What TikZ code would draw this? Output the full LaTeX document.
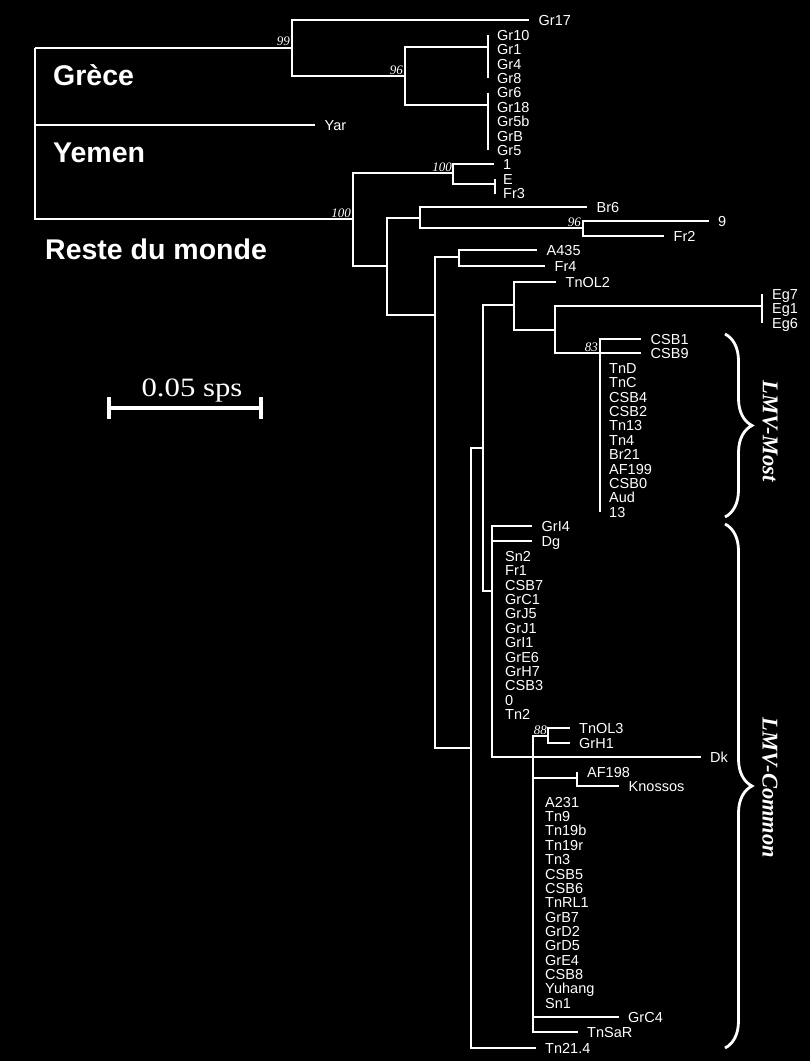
\documentclass[tikz,border=0pt]{standalone}
\usepackage{fontspec}
\setmainfont{Liberation Serif}
\setsansfont{Liberation Sans}
\newfontfamily\widserif[FakeStretch=1.16]{Liberation Serif}
\usetikzlibrary{calc,decorations.pathreplacing}
\newcommand\leaffont{\sffamily\fontsize{14.5}{14.5}\selectfont}
\newcommand\bootfont{\rmfamily\itshape\fontsize{13}{13}\selectfont}
\newcommand\regionfont{\sffamily\bfseries\fontsize{28.5}{28.5}\selectfont}
\newcommand\cladefont{\rmfamily\bfseries\itshape\fontsize{22.5}{22.5}\selectfont}
\newcommand\scalefont{\widserif\fontsize{26.5}{26.5}\selectfont}
\tikzset{
  br/.style={draw=white, line width=2pt},
  tipgap/.style={shorten >=9.5pt},
  leaf/.style={anchor=west, inner sep=0pt, text=white, font=\leaffont, text height=10.4pt, text depth=0pt},
  boot/.style={anchor=base east, inner sep=0pt, text=white, font=\bootfont},
  region/.style={anchor=base west, inner sep=0pt, text=white, font=\regionfont},
  clade/.style={rotate=-90, inner sep=0pt, text=white, font=\cladefont},
  bracestyle/.style={draw=white, line width=2.8pt, decorate, decoration={brace, amplitude=27pt}},
  scalebar/.style={draw=white, line width=3.5pt},
}
\begin{document}
\begin{tikzpicture}[x=1pt,y=-1pt]
\fill[black] (0,0) rectangle (810,1061);
\useasboundingbox (0,0) rectangle (810,1061);

% internal nodes
\coordinate (root) at (35,48);
\coordinate (g) at (292,48);
\coordinate (g2) at (405,76);
\coordinate (ga) at (488,47);
\coordinate (gb) at (488,105);
\coordinate (n100) at (353,219);
\coordinate (n1) at (453,173);
\coordinate (ne) at (495,184);
\coordinate (n2) at (387,266);
\coordinate (n3) at (420,218);
\coordinate (n96) at (583,228);
\coordinate (n4) at (435,315);
\coordinate (na) at (459,257);
\coordinate (n5) at (471,748);
\coordinate (n6) at (483,448);
\coordinate (n7) at (514,305);
\coordinate (n8) at (555,330);
\coordinate (neg) at (762,306);
\coordinate (n83) at (600,353);
\coordinate (n9) at (492,591);
\coordinate (n10) at (533,757);
\coordinate (n88) at (548,736);
\coordinate (nk) at (577,778);

% leaves with branches
\node[leaf] (gr17) at (538.5,20) {Gr17};
\node[leaf] (yar) at (324.5,125) {Yar};
\node[leaf] (one) at (503,164) {1};
\node[leaf] (e) at (503,179) {E};
\node[leaf] (fr3) at (503,193.5) {Fr3};
\node[leaf] (br6) at (596.5,207) {Br6};
\node[leaf] (nine) at (718,221) {9};
\node[leaf] (fr2) at (673.5,236) {Fr2};
\node[leaf] (a435) at (546.5,250) {A435};
\node[leaf] (fr4) at (554.5,266) {Fr4};
\node[leaf] (tnol2) at (565.5,282) {TnOL2};
\node[leaf] (eg7) at (772,294) {Eg7};
\node[leaf] (eg1) at (772,308.5) {Eg1};
\node[leaf] (eg6) at (772,323) {Eg6};
\node[leaf] (csb1) at (650.5,339) {CSB1};
\node[leaf] (csb9) at (650.5,353) {CSB9};
\node[leaf] (gri4) at (541.5,526) {GrI4};
\node[leaf] (dg) at (541.5,541) {Dg};
\node[leaf] (tnol3) at (579,728) {TnOL3};
\node[leaf] (grh1) at (579,743) {GrH1};
\node[leaf] (dk) at (710,757) {Dk};
\node[leaf] (af198) at (587,772) {AF198};
\node[leaf] (knossos) at (628.5,786) {Knossos};
\node[leaf] (grc4) at (628,1017) {GrC4};
\node[leaf] (tnsar) at (587,1032) {TnSaR};
\node[leaf] (tn214) at (545,1048) {Tn21.4};

% leaf columns (polytomies)
\foreach \t [count=\i from 0] in {Gr10,Gr1,Gr4,Gr8,Gr6,Gr18,Gr5b,GrB,Gr5}
  \node[leaf] (gr\i) at (497,{35+\i*14.4}) {\t};
\foreach \t [count=\i from 0] in {TnD,TnC,CSB4,CSB2,Tn13,Tn4,Br21,AF199,CSB0,Aud,13}
  \node[leaf] (most\i) at (609,{368+\i*14.4}) {\t};
\foreach \t [count=\i from 0] in {Sn2,Fr1,CSB7,GrC1,GrJ5,GrJ1,GrI1,GrE6,GrH7,CSB3,0,Tn2}
  \node[leaf] (coma\i) at (505,{556+\i*14.4}) {\t};
\foreach \t [count=\i from 0] in {A231,Tn9,Tn19b,Tn19r,Tn3,CSB5,CSB6,TnRL1,GrB7,GrD2,GrD5,GrE4,CSB8,Yuhang,Sn1}
  \node[leaf] (comb\i) at (545,{802+\i*14.36}) {\t};

% branches
\draw[br] (root) |- (g);
\draw[br,tipgap] (root) |- (yar.west);
\draw[br] (root) |- (n100);
\draw[br,tipgap] (g) |- (gr17.west);
\draw[br] (g) |- (g2);
\draw[br] (g2) |- (ga);
\draw[br] (g2) |- (gb);
\draw[br] (ga |- gr0.west) -- (ga |- gr3.west);
\draw[br] (gb |- gr4.west) -- (gb |- gr8.west);
\draw[br] (n100) |- (n1);
\draw[br] (n100) |- (n2);
\draw[br,tipgap] (n1) |- ([yshift=0.5pt]one.west);
\draw[br] (n1) |- (ne);
\draw[br] (ne |- e.west) -- (ne |- fr3.west);
\draw[br] (n2) |- (n3);
\draw[br] (n2) |- (n4);
\draw[br,tipgap] (n3) |- (br6.west);
\draw[br] (n3) |- (n96);
\draw[br,tipgap] (n96) |- (nine.west);
\draw[br,tipgap] (n96) |- (fr2.west);
\draw[br] (n4) |- (na);
\draw[br] (n4) |- (n5);
\draw[br,tipgap] (na) |- (a435.west);
\draw[br,tipgap] (na) |- (fr4.west);
\draw[br] (n5) |- (n6);
\draw[br,tipgap] (n5) |- (tn214.west);
\draw[br] (n6) |- (n7);
\draw[br] (n6) |- (n9);
\draw[br,tipgap] (n7) |- (tnol2.west);
\draw[br] (n7) |- (n8);
\draw[br] (n8) |- (neg);
\draw[br] (neg |- eg7.west) -- (neg |- eg6.west);
\draw[br] (n8) |- (n83);
\draw[br,tipgap] (n83) |- (csb1.west);
\draw[br,tipgap] (n83) |- (csb9.west);
\draw[br] (n83) -- (n83 |- most10.west);
\draw[br,tipgap] (n9) |- (gri4.west);
\draw[br,tipgap] (n9) |- (dg.west);
\draw[br] (n9) |- (n10);
\draw[br] (n10) |- (n88);
\draw[br,tipgap] (n10) |- (dk.west);
\draw[br] (n10) |- (nk);
\draw[br,tipgap] (n10) |- (grc4.west);
\draw[br,tipgap] (n10) |- (tnsar.west);
\draw[br,tipgap] (n88) |- (tnol3.west);
\draw[br,tipgap] (n88) |- (grh1.west);
\draw[br] (nk) -- (nk |- af198.west);
\draw[br,tipgap] (nk) |- (knossos.west);

% bootstrap values
\node[boot] (b99) at (290,45) {99};
\node[boot] (b96a) at (403,74) {96};
\node[boot] (b100a) at (452,171) {100};
\node[boot] (b100b) at (351,217) {100};
\node[boot] (b96b) at (581,226) {96};
\node[boot] (b83) at (598,351) {83};
\node[boot] (b88) at (547,734) {88};

% region labels
\node[region] (grece) at (53,85) {Grèce};
\node[region] (yemen) at (53,162) {Yemen};
\node[region] (reste) at (45,259) {Reste du monde};

% scale bar
\coordinate (sbl) at (109,408);
\coordinate (sbr) at (261,408);
\draw[scalebar] (sbl) -- (sbr);
\draw[scalebar] ([yshift=11pt]sbl) -- ([yshift=-11pt]sbl);
\draw[scalebar] ([yshift=11pt]sbr) -- ([yshift=-11pt]sbr);
\node[anchor=base, inner sep=0pt, text=white, font=\scalefont] (sbt) at (192,396.5) {0.05 sps};

% braces and clade labels
\coordinate (bmt) at (725,334);
\coordinate (bmb) at (725,517);
\coordinate (bct) at (725,524);
\coordinate (bcb) at (725,1048);
\draw[bracestyle] (bmt) -- (bmb);
\draw[bracestyle] (bct) -- (bcb);
\node[clade] (lmvmost) at (770,431) {LMV-Most};
\node[clade] (lmvcommon) at (770,788) {LMV-Common};
\end{tikzpicture}
\end{document}
